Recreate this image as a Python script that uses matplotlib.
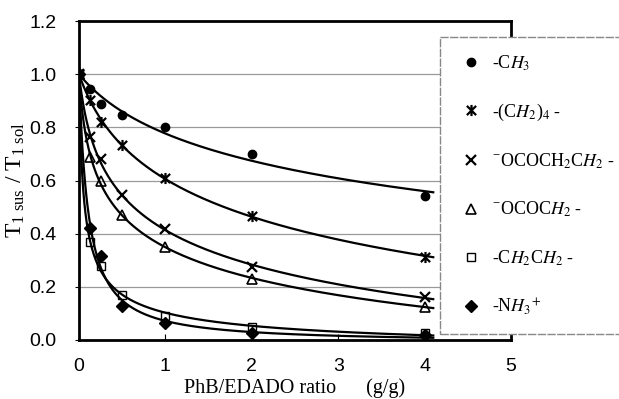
import numpy as np
import matplotlib
matplotlib.use("Agg")
import matplotlib.pyplot as plt
from matplotlib.path import Path

# ratio PhB/EDADO (g/g)
x = [0, 0.125, 0.25, 0.5, 1, 2, 4]

ch3 = [1.0, 0.944, 0.887, 0.846, 0.80, 0.70, 0.54]
ch2_4 = [1.0, 0.903, 0.82, 0.734, 0.61, 0.467, 0.313]
ococh2ch2 = [1.0, 0.765, 0.68, 0.545, 0.416, 0.273, 0.163]
ococh2 = [1.0, 0.69, 0.60, 0.47, 0.35, 0.228, 0.125]
ch2ch2 = [1.0, 0.37, 0.278, 0.17, 0.09, 0.05, 0.025]
nh3 = [1.0, 0.42, 0.316, 0.128, 0.063, 0.027, 0.02]

labels = [r"-C$\mathit{H_3}$",
          r"-(C$\mathit{H_2}$)$\mathit{_4}$ -",
          r"$^{\mathregular{-}}$OCOCH$_2$C$\mathit{H_2}$ -",
          r"$^{\mathregular{-}}$OCOC$\mathit{H_2}$ -",
          r"-C$\mathit{H_2}$C$\mathit{H_2}$ -",
          r"-N$\mathit{H_3}$$^{+}$"]

star = Path([(-1, -1), (1, 1), (-1, 1), (1, -1), (0, -1.2), (0, 1.2)],
            [Path.MOVETO, Path.LINETO, Path.MOVETO, Path.LINETO, Path.MOVETO, Path.LINETO])

styles = [dict(marker="o", ms=6, mfc="k"),
          dict(marker=star, ms=8, mew=1.6, mfc="k"),
          dict(marker="x", ms=7, mew=1.6),
          dict(marker="^", ms=7, mfc="none", mew=1.2),
          dict(marker="s", ms=6, mfc="none", mew=1.0),
          dict(marker="D", ms=6, mfc="k")]

plt.rcParams["mathtext.fontset"] = "stix"

fig = plt.figure(figsize=(6.19, 3.99), dpi=100)
ax = fig.add_axes([79 / 619, 1 - 340 / 399, (511 - 79) / 619, (340 - 21) / 399])


def fit_curve(xs, ys):
    # y = c + (1 - c) * (1 + k x)^-p, least squares over a (k, p) grid
    xs = np.asarray(xs, float)
    ys = np.asarray(ys, float)
    ks = np.geomspace(0.01, 200, 500)[:, None, None]
    ps = np.geomspace(0.1, 60, 120)[None, :, None]
    g = (1 + ks * xs) ** -ps
    d = 1 - g
    c = np.sum((ys - g) * d, axis=-1) / np.maximum(np.sum(d ** 2, axis=-1), 1e-12)
    err = np.sum((c[..., None] * d + g - ys) ** 2, axis=-1)
    i, j = np.unravel_index(np.argmin(err), err.shape)
    return ks[i, 0, 0], ps[0, j, 0], c[i, j]


xx = np.linspace(0, 4.1, 600)
series = [ch3, ch2_4, ococh2ch2, ococh2, ch2ch2, nh3]
handles = []
for ys, st, lab in zip(series, styles, labels):
    k, p, c = fit_curve(x, ys)
    ax.plot(xx, c + (1 - c) * (1 + k * xx) ** -p, color="k", lw=1.6, zorder=2)
    h, = ax.plot(x, ys, ls="none", color="k", mec="k", label=lab, zorder=3, **st)
    handles.append(h)

ax.set_xlim(0, 5)
ax.set_ylim(0, 1.2)
ax.set_xticks(range(6))
ax.set_yticks(np.arange(0, 1.21, 0.2))
ax.set_yticklabels(["%.1f" % v for v in np.arange(0, 1.21, 0.2)])
ax.yaxis.grid(True, color="#999999", lw=0.9)
ax.set_axisbelow(True)
for s in ax.spines.values():
    s.set_linewidth(2)
ax.tick_params(axis="x", direction="in", length=4, labelsize=14, pad=13)
ax.tick_params(axis="y", direction="out", length=3, labelsize=14, pad=13)
for t in ax.get_xticklabels() + ax.get_yticklabels():
    t.set_fontfamily("Liberation Sans")

ax.set_xlabel("PhB/EDADO ratio      (g/g)", family="Liberation Serif", fontsize=14.5, labelpad=2)
ax.set_ylabel(r"T$_{\mathregular{1\ sus}}$ / T$_{\mathregular{1\ sol}}$", family="Liberation Serif",
              fontsize=17, labelpad=2)

leg = fig.legend(handles=handles, loc="upper left", bbox_to_anchor=(440 / 619, 1 - 37 / 399),
                 bbox_transform=fig.transFigure, prop={"family": "Liberation Serif", "size": 13},
                 labelspacing=1.6, borderpad=0.9, borderaxespad=0, handlelength=1.6,
                 handletextpad=0.4, frameon=True, fancybox=False, framealpha=1)
leg.get_frame().set_edgecolor("#888888")
leg.get_frame().set_linestyle((0, (6, 1)))
leg.get_frame().set_linewidth(1.0)

fig.savefig("out.png", dpi=100)
